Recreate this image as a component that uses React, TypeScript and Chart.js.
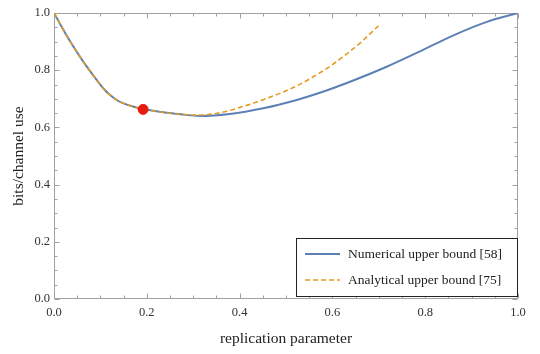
import React, { useEffect, useRef } from "react";
import { Chart, registerables } from "chart.js";

Chart.register(...registerables);

// Numerical upper bound [58]
const numericalX = [0, 0.035, 0.063, 0.092, 0.106, 0.121, 0.136, 0.15, 0.17, 0.192, 0.243, 0.272, 0.315, 0.379, 0.451, 0.523, 0.573, 0.645, 0.717, 0.789, 0.861, 0.933, 1.0];
const numericalY = [1.0, 0.9, 0.83, 0.766, 0.737, 0.713, 0.695, 0.684, 0.673, 0.664, 0.651, 0.646, 0.64, 0.647, 0.667, 0.696, 0.721, 0.764, 0.812, 0.866, 0.922, 0.969, 1.0];

// Analytical upper bound [75]
const analyticalX = [0, 0.035, 0.063, 0.092, 0.106, 0.121, 0.136, 0.15, 0.17, 0.192, 0.243, 0.272, 0.31, 0.343, 0.38, 0.415, 0.451, 0.487, 0.523, 0.559, 0.595, 0.631, 0.665, 0.699];
const analyticalY = [1.0, 0.9, 0.83, 0.766, 0.737, 0.713, 0.695, 0.684, 0.673, 0.664, 0.651, 0.646, 0.643, 0.647, 0.66, 0.677, 0.697, 0.719, 0.745, 0.777, 0.814, 0.857, 0.903, 0.955];

// Highlighted point
const markerX = [0.192];
const markerY = [0.663];

const seriesLabels = ["Numerical upper bound [58]", "Analytical upper bound [75]"];
const xTitle = "replication parameter";
const yTitle = "bits/channel use";

const BLUE = "#5E81B5";
const ORANGE = "#E19C24";
const RED = "#E8190F";
const FRAME = "#a0a0a0";
const SERIF = "'Liberation Serif', 'Times New Roman', serif";

const toPoints = (xs: number[], ys: number[]) => xs.map((x, i) => ({ x, y: ys[i] }));

const framePlugin = {
  id: "mmaFrame",
  beforeDatasetsDraw(chart: any) {
    const { ctx, chartArea } = chart;
    const xs = chart.scales.x;
    const ys = chart.scales.y;
    const l = Math.round(chartArea.left) + 0.5;
    const r = Math.round(chartArea.right) - 0.5;
    const t = Math.round(chartArea.top) + 0.5;
    const b = Math.round(chartArea.bottom) - 0.5;
    ctx.save();
    ctx.strokeStyle = FRAME;
    ctx.lineWidth = 1;
    ctx.beginPath();
    ctx.rect(l, t, r - l, b - t);
    ctx.stroke();
    ctx.beginPath();
    for (let i = 0; i <= 20; i++) {
      const v = i * 0.05;
      const major = i % 4 === 0;
      const len = major ? 5 : 3;
      const px = Math.round(xs.getPixelForValue(v)) + 0.5;
      ctx.moveTo(px, b);
      ctx.lineTo(px, b - len);
      ctx.moveTo(px, t);
      ctx.lineTo(px, t + len);
      const py = Math.round(ys.getPixelForValue(v)) + 0.5;
      ctx.moveTo(l, py);
      ctx.lineTo(l + len, py);
      ctx.moveTo(r, py);
      ctx.lineTo(r - len, py);
    }
    ctx.stroke();
    ctx.restore();
  },
  afterDraw(chart: any) {
    const { ctx } = chart;
    const bx = 296.5, by = 238.5, bw = 221, bh = 58;
    ctx.save();
    ctx.fillStyle = "#ffffff";
    ctx.fillRect(bx, by, bw, bh);
    ctx.strokeStyle = "#222222";
    ctx.lineWidth = 1;
    ctx.strokeRect(bx, by, bw, bh);
    const rows = [
      { y: 254, color: BLUE, dash: [] as number[], w: 2 },
      { y: 280, color: ORANGE, dash: [5, 3], w: 1.6 },
    ];
    rows.forEach((row, i) => {
      ctx.beginPath();
      ctx.strokeStyle = row.color;
      ctx.lineWidth = row.w;
      ctx.setLineDash(row.dash);
      ctx.moveTo(305, row.y);
      ctx.lineTo(340, row.y);
      ctx.stroke();
      ctx.setLineDash([]);
      ctx.fillStyle = "#222222";
      ctx.font = `13.5px ${SERIF}`;
      ctx.textBaseline = "middle";
      ctx.textAlign = "left";
      ctx.fillText(chart.data.datasets[i].label, 348, row.y);
    });
    ctx.restore();
  },
};

export default function App() {
  const canvasRef = useRef<HTMLCanvasElement | null>(null);

  useEffect(() => {
    document.body.style.margin = "0";
    const canvas = canvasRef.current;
    if (!canvas) return;
    const chart = new Chart(canvas, {
      type: "line",
      data: {
        datasets: [
          {
            label: seriesLabels[0],
            data: toPoints(numericalX, numericalY),
            borderColor: BLUE,
            borderWidth: 2,
            pointRadius: 0,
            cubicInterpolationMode: "monotone",
            fill: false,
            order: 2,
          },
          {
            label: seriesLabels[1],
            data: toPoints(analyticalX, analyticalY),
            borderColor: ORANGE,
            borderWidth: 1.6,
            borderDash: [5, 3],
            pointRadius: 0,
            cubicInterpolationMode: "monotone",
            fill: false,
            order: 1,
          },
          {
            type: "scatter",
            label: "marker",
            data: toPoints(markerX, markerY),
            backgroundColor: RED,
            borderColor: RED,
            pointRadius: 5,
            order: 0,
          } as any,
        ],
      },
      options: {
        animation: false,
        responsive: false,
        devicePixelRatio: 1,
        layout: { padding: { top: 13, right: 22, left: 0, bottom: 0 } },
        plugins: { legend: { display: false }, tooltip: { enabled: false } },
        scales: {
          x: {
            type: "linear",
            min: 0,
            max: 1,
            grid: { display: false, drawTicks: false },
            border: { display: false },
            ticks: {
              stepSize: 0.2,
              padding: 6,
              color: "#333333",
              font: { family: SERIF, size: 12.5 },
              callback: (v: any) => Number(v).toFixed(1),
            },
            title: {
              display: true,
              text: xTitle,
              color: "#222222",
              font: { family: SERIF, size: 15.5 },
              padding: { top: 0, bottom: 6 },
            },
            afterFit: (s: any) => {
              s.height = 55;
            },
          },
          y: {
            type: "linear",
            min: 0,
            max: 1,
            grid: { display: false, drawTicks: false },
            border: { display: false },
            ticks: {
              stepSize: 0.2,
              padding: 4,
              color: "#333333",
              font: { family: SERIF, size: 12.5 },
              callback: (v: any) => Number(v).toFixed(1),
            },
            title: {
              display: true,
              text: yTitle,
              color: "#222222",
              font: { family: SERIF, size: 15.5 },
              padding: { top: 10, bottom: 0 },
            },
            afterFit: (s: any) => {
              s.width = 54;
            },
          },
        },
      },
      plugins: [framePlugin],
    });
    return () => chart.destroy();
  }, []);

  return <canvas ref={canvasRef} width={540} height={354} style={{ display: "block" }} />;
}
